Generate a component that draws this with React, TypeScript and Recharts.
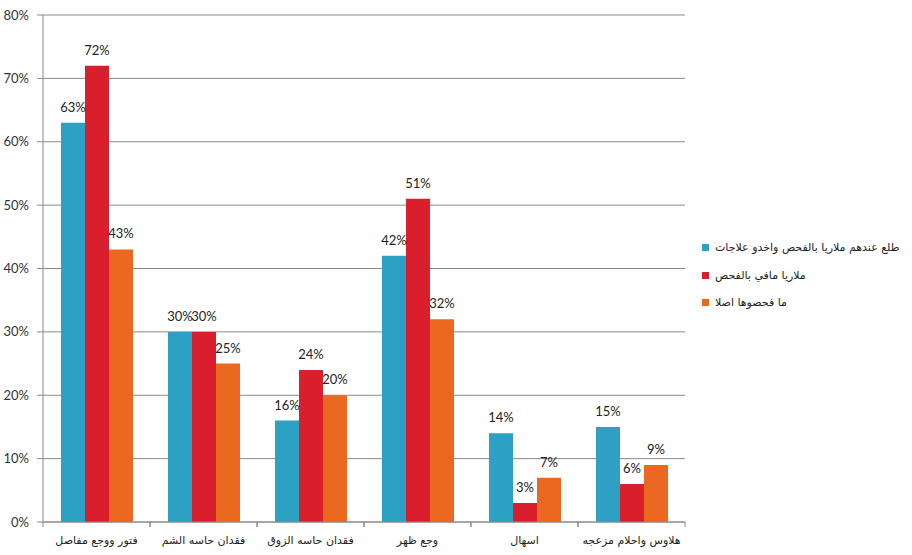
import React from 'react'
import { BarChart, Bar, XAxis, YAxis, CartesianGrid, LabelList, Legend } from 'recharts'

const categories = [
  'فتور ووجع مفاصل',
  'فقدان حاسه الشم',
  'فقدان حاسه الزوق',
  'وجع ظهر',
  'اسهال',
  'هلاوس واحلام مزعجه',
]
const treatedValues = [63, 30, 16, 42, 14, 15]
const negativeValues = [72, 30, 24, 51, 3, 6]
const untestedValues = [43, 25, 20, 32, 7, 9]
const seriesNames = ['طلع عندهم ملاريا بالفحص واخدو علاجات', 'ملاريا مافي بالفحص', 'ما فحصوها اصلا']
const seriesColors = ['#2CA1C4', '#DA1F2C', '#EB6821']
const yTicks = [0, 10, 20, 30, 40, 50, 60, 70, 80]

const data = categories.map((name, i) => ({
  name,
  treated: treatedValues[i],
  negative: negativeValues[i],
  untested: untestedValues[i],
}))
const keys = ['treated', 'negative', 'untested']

const BAND = 642 / categories.length
const GRAY = '#8a8a8a'

const CategoryTick = (props: any) => {
  const { x, y, payload } = props
  const half = BAND / 2
  return (
    <g>
      <line x1={x - half} y1={y} x2={x - half} y2={y + 5} stroke={GRAY} />
      <line x1={x + half} y1={y} x2={x + half} y2={y + 5} stroke={GRAY} />
      <text
        x={x}
        y={y + 22}
        textAnchor="middle"
        fontFamily="DejaVu Sans"
        fontSize={11}
        fill="#222"
      >
        {payload.value}
      </text>
    </g>
  )
}

const LegendBox = () => (
  <div style={{ fontFamily: 'DejaVu Sans', fontSize: 11, color: '#222' }}>
    {seriesNames.map((n, i) => (
      <div key={n} style={{ display: 'flex', alignItems: 'center', height: 27.5 }}>
        <span style={{ width: 7, height: 7, background: seriesColors[i], marginRight: 6, flex: 'none' }} />
        <span dir="rtl">{n}</span>
      </div>
    ))}
  </div>
)

export default function App() {
  return (
    <div style={{ position: 'absolute', left: 0, top: 0, width: 912, height: 555, background: '#fff' }}>
      <BarChart
        width={912}
        height={555}
        data={data}
        margin={{ top: 15, right: 227, bottom: 0, left: 0 }}
        barCategoryGap={18}
        barGap={0}
      >
        <CartesianGrid vertical={false} stroke={GRAY} />
        <XAxis
          dataKey="name"
          stroke={GRAY}
          tickLine={false}
          tickSize={0}
          tickMargin={0}
          height={33}
          tick={<CategoryTick />}
          interval={0}
        />
        <YAxis
          domain={[0, 80]}
          ticks={yTicks}
          width={43}
          stroke={GRAY}
          tickSize={6}
          tickMargin={8}
          tickFormatter={(v: number) => `${v}%`}
          tick={{ fill: '#333', fontFamily: 'Lato', fontSize: 13 }}
        />
        <Legend
          layout="horizontal"
          verticalAlign="middle"
          align="center"
          content={<LegendBox />}
          wrapperStyle={{ left: 702, top: 234, width: 210, height: 90 }}
        />
        {keys.map((k, i) => (
          <Bar key={k} dataKey={k} name={seriesNames[i]} fill={seriesColors[i]} isAnimationActive={false}>
            <LabelList
              dataKey={k}
              position="top"
              offset={11}
              formatter={(v: any) => `${v}%`}
              style={{ fill: '#222', fontFamily: 'Lato', fontSize: 13 }}
            />
          </Bar>
        ))}
      </BarChart>
    </div>
  )
}
